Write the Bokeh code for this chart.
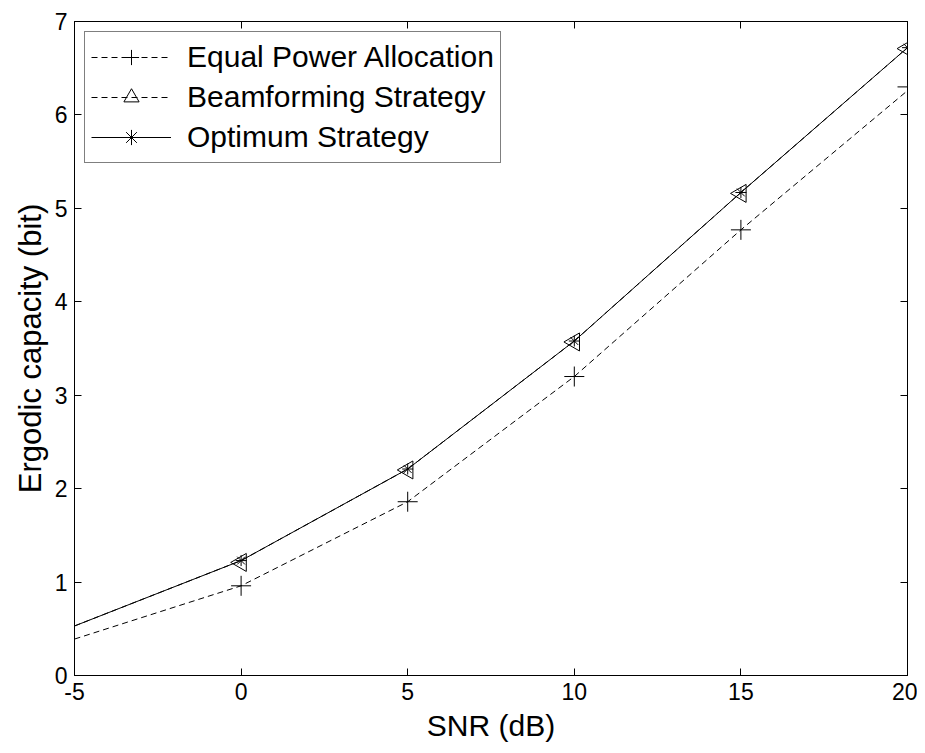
import numpy as np
from bokeh.plotting import figure
from bokeh.models import LinearAxis, Range1d, FixedTicker, Legend, LegendItem, CustomJSTickFormatter
from bokeh.embed import file_html
from bokeh.resources import INLINE

snr = [-5, 0, 5, 10, 15, 20]
equal_power = [0.39, 0.96, 1.86, 3.20, 4.77, 6.26]
beamforming = [0.53, 1.23, 2.21, 3.58, 5.17, 6.72]
optimum = [0.53, 1.23, 2.21, 3.58, 5.17, 6.72]
marker_snr = [0, 5, 10, 15, 20]
equal_power_m = [0.96, 1.86, 3.20, 4.77, 6.30]
beamforming_m = [1.21, 2.20, 3.57, 5.16, 6.71]
optimum_m = [1.23, 2.21, 3.58, 5.17, 6.72]
x_ticks = [-5, 0, 5, 10, 15, 20]
y_ticks = [0, 1, 2, 3, 4, 5, 6, 7]

FONT = "Liberation Sans"

p = figure(width=917, height=745, output_backend="svg", toolbar_location=None,
           x_range=Range1d(-5, 20), y_range=Range1d(0, 7),
           min_border_left=74, min_border_right=10, min_border_top=21, min_border_bottom=70)
p.grid.visible = False
p.outline_line_color = "black"
p.outline_line_width = 1
p.background_fill_color = "white"
p.border_fill_color = "white"

def style_axis(ax):
    ax.axis_line_color = "black"
    ax.major_tick_in = 7
    ax.major_tick_out = 0
    ax.minor_tick_line_color = None
    ax.major_tick_line_color = "black"
    ax.major_label_text_font = FONT
    ax.major_label_text_font_size = "23px"
    ax.major_label_text_color = "black"
    ax.axis_label_text_font = FONT
    ax.axis_label_text_font_size = "30px"
    ax.axis_label_text_font_style = "normal"
    ax.axis_label_text_color = "black"

p.xaxis.ticker = FixedTicker(ticks=x_ticks)
p.yaxis.ticker = FixedTicker(ticks=y_ticks)
p.xaxis.axis_label = "SNR (dB)"
p.yaxis.axis_label = "Ergodic capacity (bit)"
style_axis(p.xaxis[0])
style_axis(p.yaxis[0])
p.xaxis.major_label_overrides = {-5: "-5"}
p.xaxis.major_label_standoff = 7
p.yaxis.major_label_standoff = 7
p.xaxis.axis_label_standoff = 6
p.yaxis.axis_label_standoff = 4
p.yaxis.axis_label_text_font_size = "31px"

blank = CustomJSTickFormatter(code="return ''")
ax_top = LinearAxis(ticker=FixedTicker(ticks=x_ticks), formatter=blank)
ax_right = LinearAxis(ticker=FixedTicker(ticks=y_ticks), formatter=blank)
style_axis(ax_top)
style_axis(ax_right)
ax_top.major_label_standoff = 0
ax_right.major_label_standoff = 0
p.add_layout(ax_top, "above")
p.add_layout(ax_right, "right")

l1 = p.line(snr, equal_power, line_color="black", line_dash="6 4", line_width=1)
m1 = p.scatter(marker_snr, equal_power_m, marker="cross", size=20, line_color="black", line_width=1)
l2 = p.line(snr, beamforming, line_color="black", line_dash="6 4", line_width=1)
m2 = p.scatter(marker_snr, beamforming_m, marker="triangle", angle=np.pi / 2, size=18,
               line_color="black", fill_alpha=0, line_width=1)
l3 = p.line(snr, optimum, line_color="black", line_width=1)
m3 = p.scatter(marker_snr, optimum_m, marker="asterisk", size=11, line_color="black", line_width=1)

legend = Legend(items=[
    LegendItem(label="Equal Power Allocation", renderers=[l1, m1]),
    LegendItem(label="Beamforming Strategy", renderers=[l2, m2]),
    LegendItem(label="Optimum Strategy", renderers=[l3, m3]),
], location="top_left")
legend.label_text_font = FONT
legend.label_text_font_size = "30px"
legend.label_text_color = "black"
legend.border_line_color = "black"
legend.border_line_width = 1
legend.glyph_width = 80
legend.glyph_height = 38
legend.label_height = 38
legend.spacing = 2
legend.padding = 6
legend.margin = 10
legend.label_standoff = 16
p.add_layout(legend, "center")

open("out.html", "w").write(file_html(p, INLINE))
